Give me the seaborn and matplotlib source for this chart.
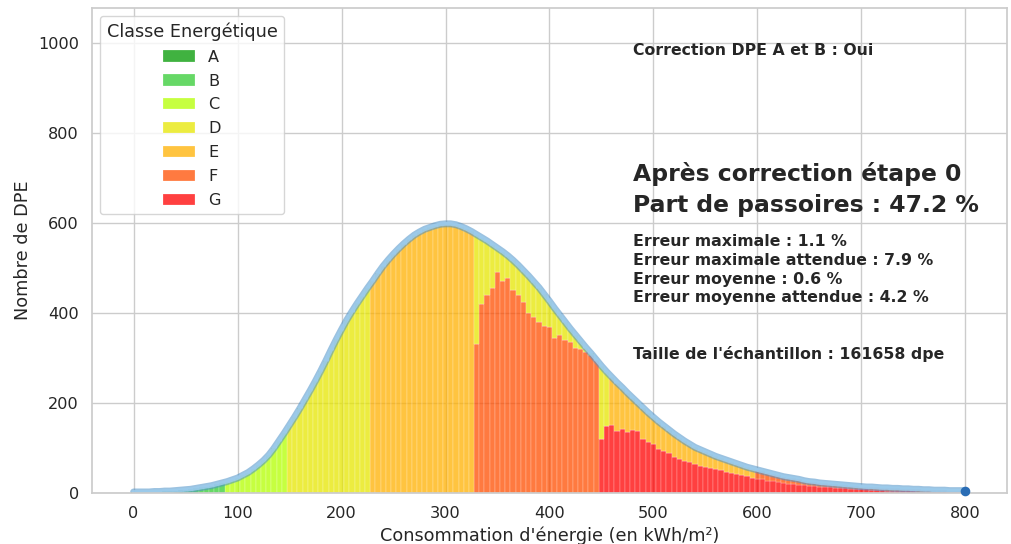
import numpy as np
import pandas as pd
import matplotlib
matplotlib.use("Agg")
import matplotlib.pyplot as plt
import seaborn as sns

# consommation (kWh/m²), pas de 5
kwh = np.arange(0, 805, 5)

# nombre total de DPE par tranche
total = [
    2, 2, 2, 2, 3, 3, 4, 4, 5, 6,
    7, 8, 10, 12, 14, 16, 19, 22, 25, 29,
    33, 39, 45, 53, 62, 72, 84, 99, 116, 133,
    151, 169, 188, 208, 228, 249, 271, 294, 318, 341,
    363, 384, 403, 421, 438, 455, 471, 488, 504, 518,
    531, 543, 554, 564, 573, 580, 586, 590, 594, 597,
    598, 598, 596, 592, 587, 581, 574, 567, 560, 552,
    544, 536, 527, 517, 506, 494, 482, 469, 456, 441,
    426, 410, 395, 380, 365, 351, 337, 323, 310, 296,
    282, 269, 257, 245, 234, 222, 211, 200, 189, 178,
    168, 158, 149, 140, 131, 123, 115, 108, 101, 96,
    91, 86, 81, 77, 73, 69, 65, 61, 57, 54,
    51, 48, 45, 42, 39, 36, 34, 32, 30, 27,
    25, 24, 22, 21, 20, 19, 18, 17, 16, 15,
    14, 13, 13, 12, 11, 11, 10, 10, 9, 9,
    8, 8, 7, 7, 6, 6, 6, 5, 5, 5,
    5,
]

# part basse classée F (330-445) puis G (450-800)
f_bas = [330, 420, 440, 455, 490, 470, 478, 450, 440, 425, 400, 392,
         380, 372, 368, 345, 352, 340, 335, 322, 320, 312, 306, 296]
g_bas = [
    120, 148, 150, 138, 142, 135, 140, 138, 120, 112,
    108, 98, 92, 88, 80, 76, 70, 68, 64, 60,
    57, 56, 52, 50, 46, 44, 42, 40, 37, 34,
    30, 30, 27, 26, 24, 22, 20, 19, 18, 17,
    15, 15, 14, 13, 12, 11, 11, 10, 9, 9,
    8, 8, 7, 6, 6, 5, 5, 5, 4, 4,
    4, 3, 3, 3, 3, 2, 2, 2, 1, 1,
    1,
]

classes = ["A", "B", "C", "D", "E", "F", "G"]
seuils = [50, 90, 150, 230, 330, 450]
couleurs = ["#009900", "#33cc33", "#b3ff00", "#e6e600", "#ffb000", "#ff4d00", "#ff0000"]

# table longue pour histplot
rows = []
bas = [0] * (len(kwh) - len(f_bas) - len(g_bas)) + f_bas + g_bas
for x, t, b in zip(kwh, total, bas):
    if x < 330:
        c = classes[np.searchsorted(seuils, x, side="right")]
        rows.append((x, c, t))
    else:
        rows.append((x, "F" if x < 450 else "G", b))
        haut = "D" if x < 460 else ("E" if x < 600 else "F")
        rows.append((x, haut, t - b))
df = pd.DataFrame(rows, columns=["kwh", "classe", "n"])

sns.set_theme(style="whitegrid", font_scale=1.055)
plt.rcParams["font.family"] = ["DejaVu Sans"]

fig = plt.figure(figsize=(10.11, 5.44), dpi=100)
ax = fig.add_axes([0.091, 0.094, 0.905, 0.8915])

sns.histplot(data=df, x="kwh", weights="n", hue="classe", hue_order=classes,
             multiple="stack", binwidth=5, binrange=(-2.5, 802.5),
             palette=couleurs, alpha=0.75, linewidth=0.15, ax=ax)

ax.plot(kwh, total, color="#4a90c8", lw=5, alpha=0.55, solid_capstyle="round")
ax.plot(kwh, total, color="#9ccbec", lw=2.8, alpha=0.9)
ax.scatter([kwh[-1]], [total[-1]], s=35, color="#2a6db5", zorder=5, clip_on=False)

ax.set_xlim(-40, 840)
ax.set_ylim(0, 1078)
ax.set_xlabel("Consommation d'énergie (en kWh/m²)")
ax.set_ylabel("Nombre de DPE")
sns.move_legend(ax, "upper left", title="Classe Energétique", labelspacing=0.55)

txt = dict(fontweight="bold", color="#262626", va="center")
ax.text(480, 984, "Correction DPE A et B : Oui", fontsize=11.35, **txt)
ax.text(480, 709, "Après correction étape 0", fontsize=16.9, **txt)
ax.text(480, 638, "Part de passoires : 47.2 %", fontsize=16.9, **txt)
ax.text(480, 496, "Erreur maximale : 1.1 %\nErreur maximale attendue : 7.9 %\n"
        "Erreur moyenne : 0.6 %\nErreur moyenne attendue : 4.2 %",
        fontsize=11.35, linespacing=1.3, **txt)
ax.text(480, 309, "Taille de l'échantillon : 161658 dpe", fontsize=11.35, **txt)

fig.savefig("out.png", dpi=100)
